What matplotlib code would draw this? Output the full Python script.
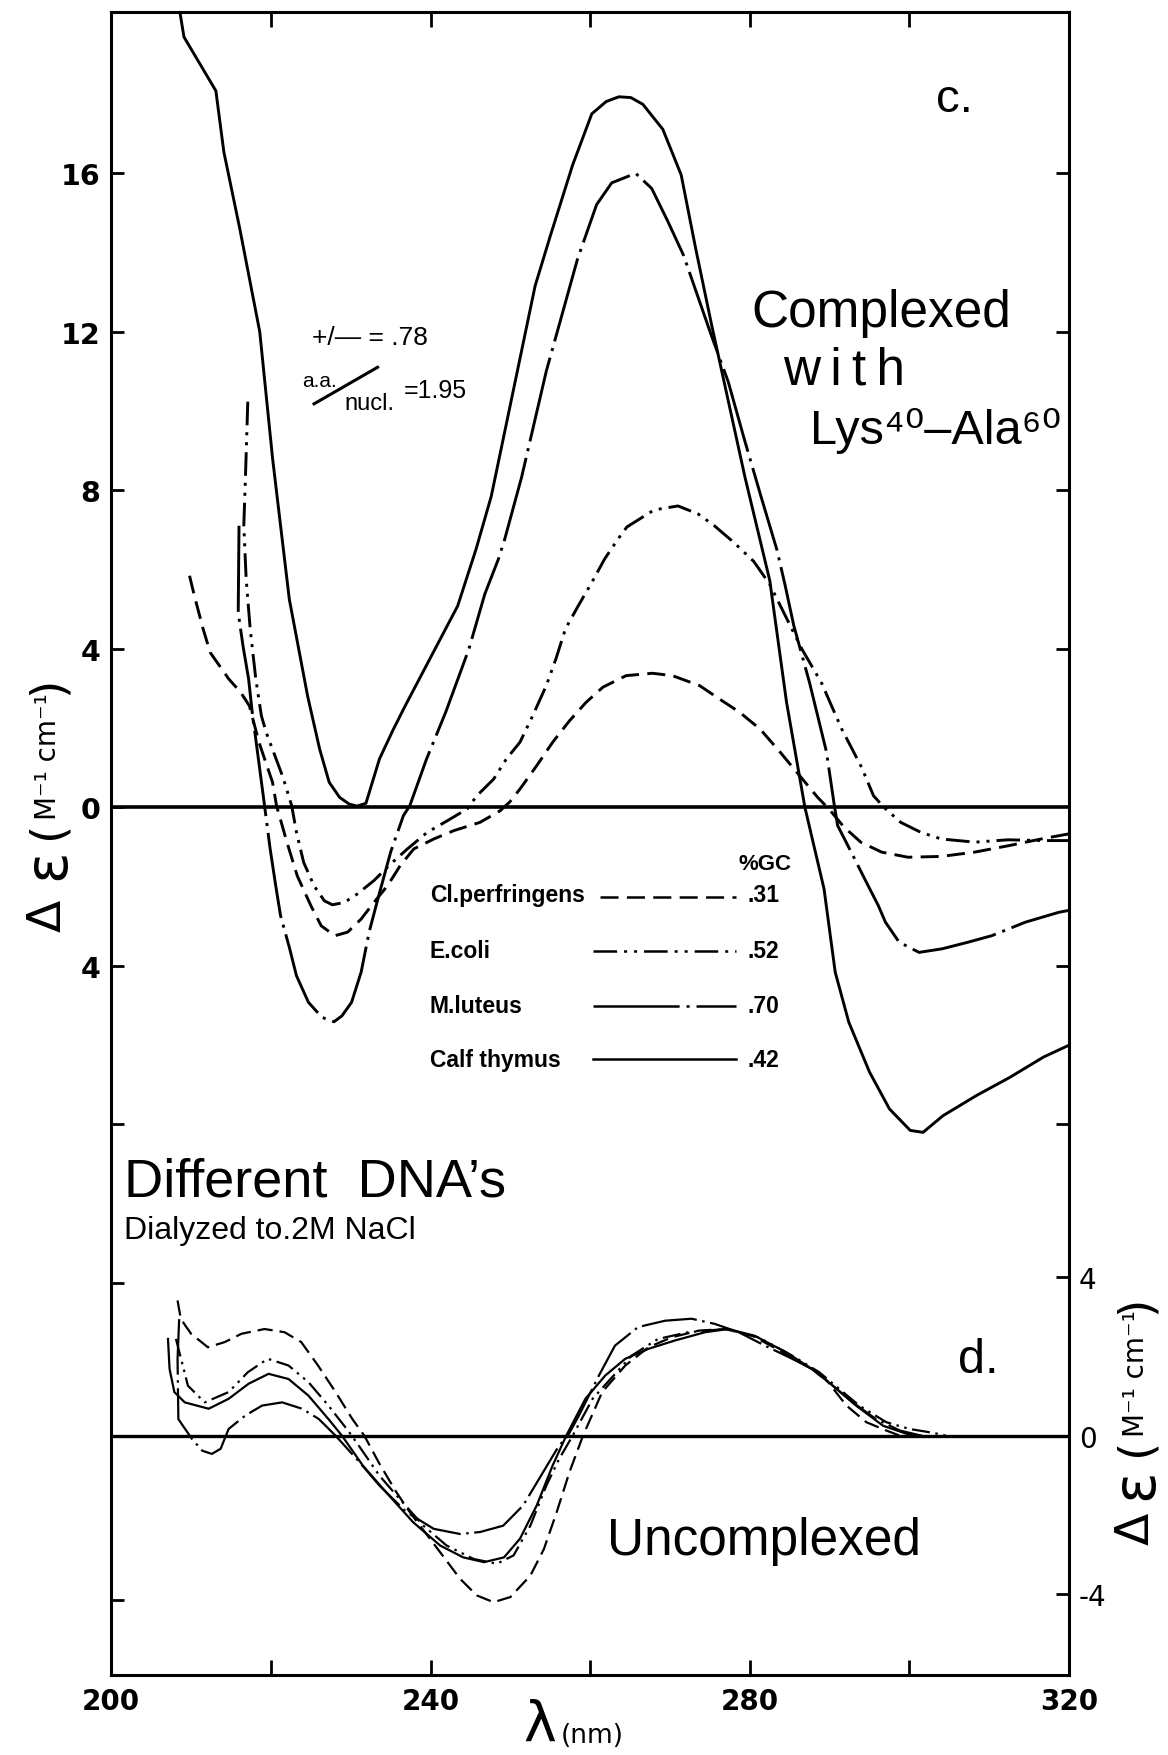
import matplotlib
matplotlib.use("Agg")
import matplotlib.pyplot as plt

plt.rcParams["font.family"] = ["Liberation Sans", "DejaVu Sans"]
plt.rcParams["lines.scale_dashes"] = False
plt.rcParams["lines.solid_joinstyle"] = "round"
plt.rcParams["lines.dash_joinstyle"] = "round"
plt.rcParams["axes.linewidth"] = 2.2

# ---------------- panel c : DNA complexed with Lys40-Ala60 ----------------
calf_c_nm = [208.6, 209.1, 213.1, 214.1, 216.1, 218.6, 220.2, 222.3, 224.6, 226.1,
             227.3, 228.6, 229.8, 230.8, 231.9, 233.6, 235.3, 236.8, 243.4, 245.7,
             247.6, 253.1, 255.0, 257.8, 260.2, 262.0, 263.6, 265.1, 266.6, 269.1,
             271.4, 273.2, 275.2, 277.3, 279.4, 282.5, 284.6, 286.9, 289.3, 290.7,
             292.4, 295.0, 297.5, 300.1, 301.7, 304.2, 308.4, 312.6, 316.8, 320.0]
calf_c_de = [20.05, 19.43, 18.07, 16.53, 14.59, 11.99, 8.81, 5.25, 2.8, 1.47,
             0.63, 0.25, 0.08, 0.03, 0.1, 1.22, 1.95, 2.55, 5.08, 6.51,
             7.84, 13.15, 14.41, 16.2, 17.49, 17.8, 17.92, 17.9, 17.73, 17.1,
             15.95, 14.11, 12.18, 10.25, 8.32, 5.72, 2.65, 0.0, -2.06, -4.16,
             -5.42, -6.68, -7.61, -8.15, -8.2, -7.78, -7.27, -6.81, -6.3, -6.0]

luteus_c_nm = [216.0, 215.9, 216.5, 217.2, 217.7, 218.1, 219.2, 219.9, 220.6, 221.2,
               222.3, 223.2, 224.7, 226.4, 227.9, 228.9, 230.1, 231.3, 232.3, 233.4,
               235.0, 236.6, 237.4, 239.5, 241.9, 244.8, 246.8, 248.5, 249.3, 251.4,
               254.5, 258.4, 260.8, 262.7, 265.7, 267.7, 269.7, 271.7, 273.2, 275.2,
               277.3, 279.3, 281.4, 283.4, 284.4, 285.5, 287.5, 289.6, 290.6, 291.0,
               292.7, 294.4, 296.1, 297.0, 298.7, 301.2, 304.1, 307.4, 310.3, 314.5,
               318.7, 320.0]
luteus_c_de = [7.1, 4.91, 4.07, 3.24, 2.31, 1.72, 0.04, -1.05, -1.98, -2.73,
               -3.53, -4.25, -4.92, -5.3, -5.41, -5.26, -4.92, -4.16, -3.15, -2.31,
               -1.13, -0.21, 0.04, 1.22, 2.4, 3.99, 5.38, 6.26, 6.77, 8.32,
               11.0, 13.82, 15.2, 15.75, 15.99, 15.61, 14.79, 13.92, 13.05, 11.89,
               10.73, 9.29, 7.84, 6.49, 5.62, 4.59, 3.13, 1.4, 0.03, -0.46,
               -1.13, -1.81, -2.48, -2.9, -3.4, -3.66, -3.57, -3.4, -3.24, -2.9,
               -2.65, -2.6]

coli_c_nm = [217.1, 216.8, 216.6, 216.9, 217.4, 218.1, 218.8, 219.4, 221.5, 222.6,
             223.2, 224.1, 225.4, 226.7, 227.7, 229.2, 230.8, 232.9, 235.0, 237.1,
             239.6, 242.1, 244.6, 245.8, 247.9, 249.5, 251.2, 252.8, 254.5, 255.7,
             256.9, 258.5, 260.2, 261.8, 263.5, 264.6, 268.0, 271.0, 273.5, 275.5,
             278.0, 280.5, 282.5, 286.5, 289.0, 291.5, 294.0, 295.5, 296.8, 298.9,
             301.4, 304.0, 308.2, 312.4, 316.6, 320.0]
coli_c_de = [10.23, 8.28, 7.1, 5.75, 4.5, 3.24, 2.31, 1.89, 0.76, 0.04,
             -0.63, -1.39, -1.98, -2.36, -2.46, -2.4, -2.19, -1.85, -1.43, -1.05,
             -0.63, -0.34, -0.04, 0.29, 0.71, 1.22, 1.64, 2.31, 3.07, 3.74,
             4.5, 5.08, 5.67, 6.26, 6.77, 7.07, 7.5, 7.6, 7.4, 7.11,
             6.68, 6.2, 5.62, 4.0, 3.13, 1.98, 1.01, 0.29, 0.0, -0.38,
             -0.63, -0.8, -0.88, -0.82, -0.84, -0.84]

perf_c_nm = [209.8, 210.4, 211.5, 212.4, 214.7, 216.2, 217.3, 218.5, 220.2, 220.7,
             222.0, 223.3, 225.0, 226.3, 228.0, 229.6, 231.3, 232.9, 234.6, 236.2,
             237.9, 240.4, 242.9, 246.2, 248.7, 249.9, 251.2, 253.3, 255.3, 257.4,
             259.5, 261.6, 264.5, 267.8, 270.3, 273.7, 276.2, 278.7, 281.3, 283.8,
             285.9, 288.5, 289.9, 291.8, 293.9, 296.5, 299.8, 304.0, 308.2, 312.4,
             316.5, 320.0]
perf_c_de = [5.84, 5.34, 4.5, 3.9, 3.24, 2.9, 2.56, 1.64, 0.63, 0.04,
             -0.88, -1.73, -2.48, -2.99, -3.24, -3.15, -2.82, -2.4, -1.98, -1.47,
             -1.05, -0.8, -0.59, -0.38, -0.09, 0.13, 0.46, 1.05, 1.64, 2.18,
             2.65, 3.03, 3.32, 3.38, 3.32, 3.07, 2.73, 2.4, 1.97, 1.39,
             0.88, 0.25, -0.04, -0.5, -0.88, -1.13, -1.26, -1.24, -1.13, -0.97,
             -0.8, -0.67]

# ---------------- panel d : uncomplexed DNA ----------------
calf_d_nm = [207.1, 207.3, 207.9, 209.2, 212.2, 214.7, 217.2, 219.7, 222.2, 224.7,
             227.2, 228.9, 231.5, 234.4, 237.8, 241.2, 244.1, 246.7, 249.2, 251.2,
             253.3, 255.3, 257.0, 259.4, 261.9, 264.4, 267.3, 270.6, 274.4, 277.3,
             280.6, 284.5, 287.8, 290.4, 293.3, 296.7, 299.6, 301.5]
calf_d_de = [2.44, 1.68, 1.1, 0.84, 0.68, 0.93, 1.31, 1.56, 1.43, 1.01,
             0.42, 0.0, -0.75, -1.42, -2.18, -2.77, -3.07, -3.19, -3.07, -2.6,
             -1.76, -0.75, 0.0, 0.93, 1.52, 1.94, 2.19, 2.4, 2.61, 2.69,
             2.52, 2.11, 1.68, 1.26, 0.76, 0.25, 0.05, 0.0]

luteus_d_nm = [208.5, 208.3, 208.4, 208.8, 210.1, 211.4, 212.6, 213.7, 214.7, 216.8,
               218.9, 221.4, 223.9, 226.0, 228.1, 231.1, 233.6, 237.0, 240.4, 243.7,
               246.2, 249.1, 251.6, 254.1, 256.1, 257.2, 258.6, 261.1, 263.1, 266.0,
               269.4, 272.7, 275.6, 278.6, 281.9, 285.3, 287.8, 290.4, 292.9, 295.8,
               298.8, 301.5]
luteus_d_de = [2.94, 1.93, 0.42, 0.3, -0.08, -0.38, -0.46, -0.33, 0.17, 0.51,
               0.76, 0.84, 0.68, 0.42, 0.0, -0.67, -1.26, -1.93, -2.35, -2.48,
               -2.43, -2.27, -1.76, -0.92, -0.25, 0.0, 0.51, 1.52, 2.27, 2.74,
               2.9, 2.95, 2.82, 2.61, 2.27, 1.94, 1.68, 1.26, 0.84, 0.42,
               0.13, 0.0]

coli_d_nm = [208.1, 209.6, 211.7, 214.7, 217.1, 219.6, 222.2, 224.7, 227.2, 229.8,
             231.0, 233.6, 236.1, 239.1, 242.0, 245.4, 248.3, 250.4, 252.5, 254.5,
             256.1, 257.8, 260.3, 265.2, 268.5, 272.3, 276.9, 281.1, 285.3, 288.7,
             291.2, 293.7, 297.1, 300.0, 303.0, 304.6]
coli_d_de = [2.44, 1.26, 0.84, 1.1, 1.6, 1.94, 1.77, 1.35, 0.76, 0.09,
             -0.25, -1.01, -1.59, -2.27, -2.77, -3.11, -3.23, -3.02, -2.27, -1.26,
             -0.59, 0.0, 0.93, 2.02, 2.44, 2.61, 2.69, 2.48, 2.02, 1.6,
             1.18, 0.76, 0.34, 0.17, 0.07, 0.0]

perf_d_nm = [208.3, 208.7, 209.4, 210.0, 212.1, 214.2, 216.3, 219.2, 221.7, 223.8,
             225.9, 228.1, 230.2, 231.7, 233.6, 235.7, 237.4, 241.2, 243.7, 245.8,
             247.9, 250.0, 252.5, 254.2, 255.8, 257.4, 259.1, 261.5, 264.4, 267.3,
             270.2, 273.6, 276.9, 280.3, 284.1, 287.8, 289.5, 292.1, 294.6, 297.1,
             298.8]
perf_d_de = [3.41, 2.95, 2.74, 2.57, 2.23, 2.36, 2.57, 2.69, 2.61, 2.36,
             1.77, 1.1, 0.42, 0.0, -0.71, -1.42, -1.93, -2.94, -3.61, -4.03,
             -4.2, -4.07, -3.53, -2.86, -1.93, -0.92, 0.0, 1.1, 1.77, 2.23,
             2.48, 2.65, 2.69, 2.52, 2.11, 1.68, 1.43, 0.76, 0.34, 0.13,
             0.0]

species = ["Cl.perfringens", "E.coli", "M.luteus", "Calf thymus"]
gc_frac = [".31", ".52", ".70", ".42"]

x_ticks = [200, 220, 240, 260, 280, 300, 320]
x_tick_labels = ["200", "", "240", "", "280", "", "320"]
left_ticks = [16, 12, 8, 4, 0, -4, -8, -12, -20]
left_tick_labels = ["16", "12", "8", "4", "0", "4", "", "", ""]
d_ticks = [4, 0, -4]
d_tick_labels = ["4", "0", "-4"]

# panel d shares the ordinate, shifted down to its own baseline
D_OFFSET = -15.85

# dash patterns (points): long dash-dot, dash-dot-dot, dashed
STY_C = {
    "calf": dict(linestyle="-"),
    "luteus": dict(dashes=(62, 5, 2.2, 5)),
    "coli": dict(dashes=(17, 5, 2.2, 5, 2.2, 5)),
    "perf": dict(dashes=(13, 6)),
}
STY_D = {
    "calf": dict(linestyle="-"),
    "luteus": dict(dashes=(40, 4, 1.8, 4)),
    "coli": dict(dashes=(13, 4, 1.8, 4, 1.8, 4)),
    "perf": dict(dashes=(11, 5)),
}

fig = plt.figure(figsize=(11.68, 17.56), dpi=100, facecolor="white")
ax = fig.add_axes([0.0953, 0.0457, 0.8200, 0.9467])
ax.set_xlim(200, 320)
ax.set_ylim(-21.88, 20.05)

LW_C = 2.1
LW_D = 1.6
ax.plot(calf_c_nm, calf_c_de, color="black", lw=LW_C, **STY_C["calf"])
ax.plot(luteus_c_nm, luteus_c_de, color="black", lw=LW_C, dash_capstyle="butt", **STY_C["luteus"])
ax.plot(coli_c_nm, coli_c_de, color="black", lw=LW_C, dash_capstyle="butt", **STY_C["coli"])
ax.plot(perf_c_nm, perf_c_de, color="black", lw=LW_C, dash_capstyle="butt", **STY_C["perf"])


def shifted(vals):
    return [v + D_OFFSET for v in vals]


ax.plot(calf_d_nm, shifted(calf_d_de), color="black", lw=LW_D, **STY_D["calf"])
ax.plot(luteus_d_nm, shifted(luteus_d_de), color="black", lw=LW_D, dash_capstyle="butt", **STY_D["luteus"])
ax.plot(coli_d_nm, shifted(coli_d_de), color="black", lw=LW_D, dash_capstyle="butt", **STY_D["coli"])
ax.plot(perf_d_nm, shifted(perf_d_de), color="black", lw=LW_D, dash_capstyle="butt", **STY_D["perf"])

# baselines of the two panels
ax.axhline(0, color="black", lw=2.6)
ax.axhline(D_OFFSET, color="black", lw=2.4)

# ticks
ax.set_xticks(x_ticks)
ax.set_xticklabels(x_tick_labels)
ax.set_yticks(left_ticks)
ax.set_yticklabels(left_tick_labels)
ax.tick_params(axis="x", which="both", direction="in", top=True, bottom=True,
               length=11, width=2.0, pad=9)
ax.tick_params(axis="y", which="both", direction="in", left=True, right=False,
               length=9.5, width=2.0, pad=8)
for lbl in ax.get_xticklabels():
    lbl.set_family("DejaVu Sans")
    lbl.set_fontweight("bold")
    lbl.set_fontsize(20)
for lbl in ax.get_yticklabels():
    lbl.set_family("DejaVu Sans")
    lbl.set_fontweight("bold")
    lbl.set_fontsize(20.5)

ax2 = ax.twinx()
ax2.set_ylim(ax.get_ylim())
right_ticks = [16, 12, 8, 4, -4, -8] + [D_OFFSET + t for t in d_ticks]
ax2.set_yticks(right_ticks)
ax2.set_yticklabels([""] * 6 + d_tick_labels)
ax2.tick_params(axis="y", direction="in", length=9.5, width=2.0, pad=7)
for lbl in ax2.get_yticklabels():
    lbl.set_family("DejaVu Sans")
    lbl.set_fontsize(20)
for s in ax2.spines.values():
    s.set_visible(False)

# panel annotations
T = ax.transAxes
ax.text(0.8614, 0.9405, "c.", transform=T, fontsize=34, va="baseline")
ax.text(0.668, 0.8112, "Complexed", transform=T, fontsize=37, va="baseline")
ax.text(0.701, 0.7768, "w\u2009i\u2009t\u2009h", transform=T, fontsize=37, va="baseline")
ax.text(0.7296, 0.741, "Lys\u2074\u2070\u2013Ala\u2076\u2070", transform=T,
        fontsize=35, va="baseline")

ax.text(0.2095, 0.8007, "+/\u2014 = .78", transform=T, fontsize=19, va="baseline")
ax.text(0.1990, 0.7752, "a.a.", transform=T, fontsize=15, va="baseline")
ax.plot([0.2117, 0.2780], [0.7645, 0.7865], transform=T, color="black", lw=2.2)
ax.text(0.2430, 0.7614, "nucl.", transform=T, fontsize=17, va="baseline")
ax.text(0.3050, 0.7686, "=1.95", transform=T, fontsize=18, va="baseline")

# key
key_y_text = [0.4654, 0.4318, 0.3987, 0.3662]
key_y_line = [0.4677, 0.4355, 0.4021, 0.3703]
key_x0 = [0.5103, 0.5034, 0.5034, 0.5034]
key_styles = [STY_C["perf"], STY_C["coli"], STY_C["luteus"], STY_C["calf"]]
ax.text(0.6545, 0.4847, "%GC", transform=T, fontsize=16, fontweight="bold", va="baseline")
for name, gc, yt, yl, x0, sty in zip(species, gc_frac, key_y_text, key_y_line, key_x0, key_styles):
    ax.text(0.3327, yt, name, transform=T, fontsize=16.5, fontweight="bold", va="baseline")
    ax.plot([x0, 0.6520], [yl, yl], transform=T, color="black", lw=1.8,
            dash_capstyle="butt", **sty)
    ax.text(0.6640, yt, gc, transform=T, fontsize=16.5, fontweight="bold", va="baseline")

ax.text(0.0129, 0.2883, "Different  DNA\u2019s", transform=T, fontsize=39, va="baseline")
ax.text(0.0129, 0.2628, "Dialyzed to.2M NaCl", transform=T, fontsize=23, va="baseline")
ax.text(0.8844, 0.1819, "d.", transform=T, fontsize=35, va="baseline")
ax.text(0.5178, 0.0726, "Uncomplexed", transform=T, fontsize=37, va="baseline")


# ordinate titles (left for c, right for d)
def ordinate_title(xc, y_delta, y_eps, y_open, y_units, y_close):
    kw = dict(rotation=90, ha="center", va="center", transform=fig.transFigure)
    fig.text(xc, y_delta, "\u0394", fontsize=34, family="DejaVu Sans", **kw)
    fig.text(xc, y_eps, "\u03b5", fontsize=42, family="DejaVu Sans", **kw)
    fig.text(xc, y_open, "(", fontsize=34, family="DejaVu Sans", **kw)
    fig.text(xc, y_units, "M\u207b\u00b9 cm\u207b\u00b9", fontsize=20, family="DejaVu Sans", **kw)
    fig.text(xc, y_close, ")", fontsize=34, family="DejaVu Sans", **kw)


ordinate_title(0.0411, 0.4784, 0.5080, 0.5273, 0.5689, 0.6093)
ordinate_title(0.9726, 0.1293, 0.1549, 0.1760, 0.2175, 0.2568)

# abscissa title
fig.text(0.4623, 0.002, "\u03bb", fontsize=40, family="DejaVu Sans", ha="center", va="bottom")
fig.text(0.4800, 0.004, "(nm)", fontsize=19, family="DejaVu Sans", ha="left", va="bottom")

fig.savefig("out.png", dpi=100, facecolor="white")
